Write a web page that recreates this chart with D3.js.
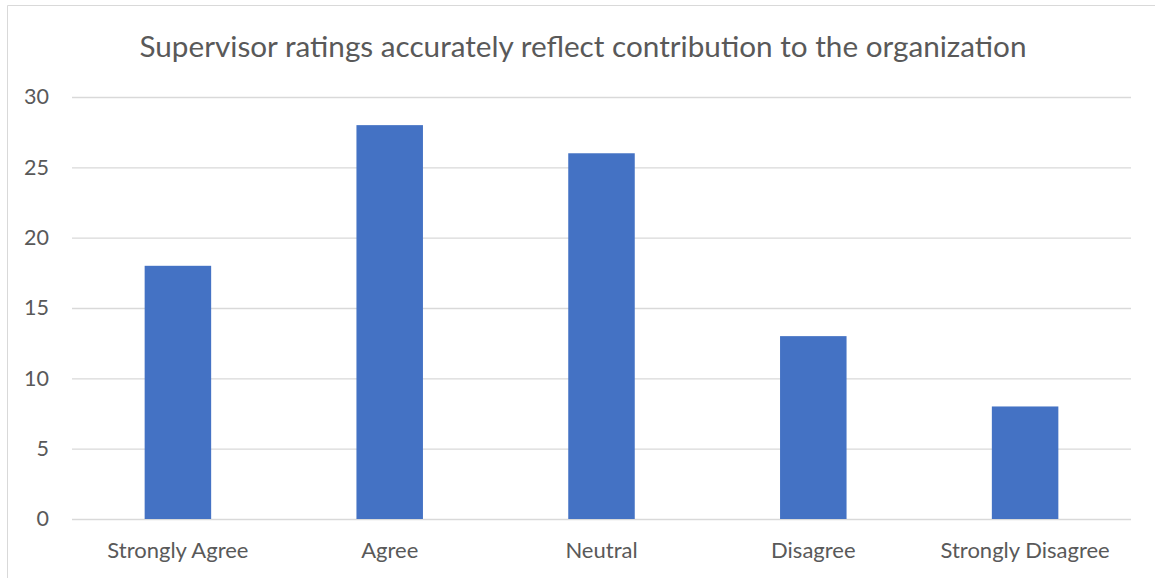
<!DOCTYPE html>
<html>
<head>
<meta charset="utf-8">
<script src="https://cdn.jsdelivr.net/npm/d3@7"></script>
<style>
  html, body { margin: 0; padding: 0; background: #fff; }
  svg { display: block; font-family: Lato, "Open Sans", sans-serif; }
</style>
</head>
<body>
<svg id="chart" width="1155" height="578"></svg>
<script>
// Survey responses
const categories = ["Strongly Agree", "Agree", "Neutral", "Disagree", "Strongly Disagree"];
const counts = [18, 28, 26, 13, 8];
const yTicks = [0, 5, 10, 15, 20, 25, 30];
const title = "Supervisor ratings accurately reflect contribution to the organization";

const W = 1155, H = 578;
const plot = { left: 72, right: 1131, top: 97, bottom: 519 };
const textColor = "#595959";
const gridColor = "#d9d9d9";
const barColor = "#4472C4";

const svg = d3.select("#chart");

// chart frame (top and left edges visible)
svg.append("path")
  .attr("d", `M7.5,${H} V5.5 H${W}`)
  .attr("fill", "none")
  .attr("stroke", gridColor)
  .attr("stroke-width", 1);

const x = d3.scaleBand()
  .domain(categories)
  .range([plot.left, plot.right])
  .paddingInner(0.686)
  .paddingOuter(0.343);

const y = d3.scaleLinear()
  .domain([0, 30])
  .range([plot.bottom, plot.top]);

// gridlines + y labels
const yAxis = d3.axisLeft(y)
  .tickValues(yTicks)
  .tickSize(-(plot.right - plot.left))
  .tickPadding(23)
  .tickFormat(d3.format("d"));

const yg = svg.append("g")
  .attr("transform", `translate(${plot.left},0)`)
  .call(yAxis);
yg.select(".domain").remove();
yg.selectAll(".tick line").attr("stroke", gridColor).attr("stroke-width", 1.3);
yg.selectAll(".tick text")
  .attr("fill", textColor)
  .attr("font-size", 21.5)
  .attr("font-family", "Lato, 'Open Sans', sans-serif");

// bars
svg.append("g")
  .selectAll("rect")
  .data(categories.map((c, i) => ({ c, v: counts[i] })))
  .join("rect")
  .attr("x", d => x(d.c))
  .attr("width", x.bandwidth())
  .attr("y", d => y(d.v))
  .attr("height", d => y(0) - y(d.v))
  .attr("fill", barColor);

// category labels
const xAxis = d3.axisBottom(x).tickSize(0).tickPadding(23);
const xg = svg.append("g")
  .attr("transform", `translate(0,${plot.bottom})`)
  .call(xAxis);
xg.select(".domain").remove();
xg.selectAll(".tick text")
  .attr("fill", textColor)
  .attr("font-size", 22)
  .attr("font-family", "Lato, 'Open Sans', sans-serif");

// title
svg.append("text")
  .attr("x", 583)
  .attr("y", 57)
  .attr("text-anchor", "middle")
  .attr("fill", textColor)
  .attr("font-size", 29.7)
  .text(title);
</script>
</body>
</html>
